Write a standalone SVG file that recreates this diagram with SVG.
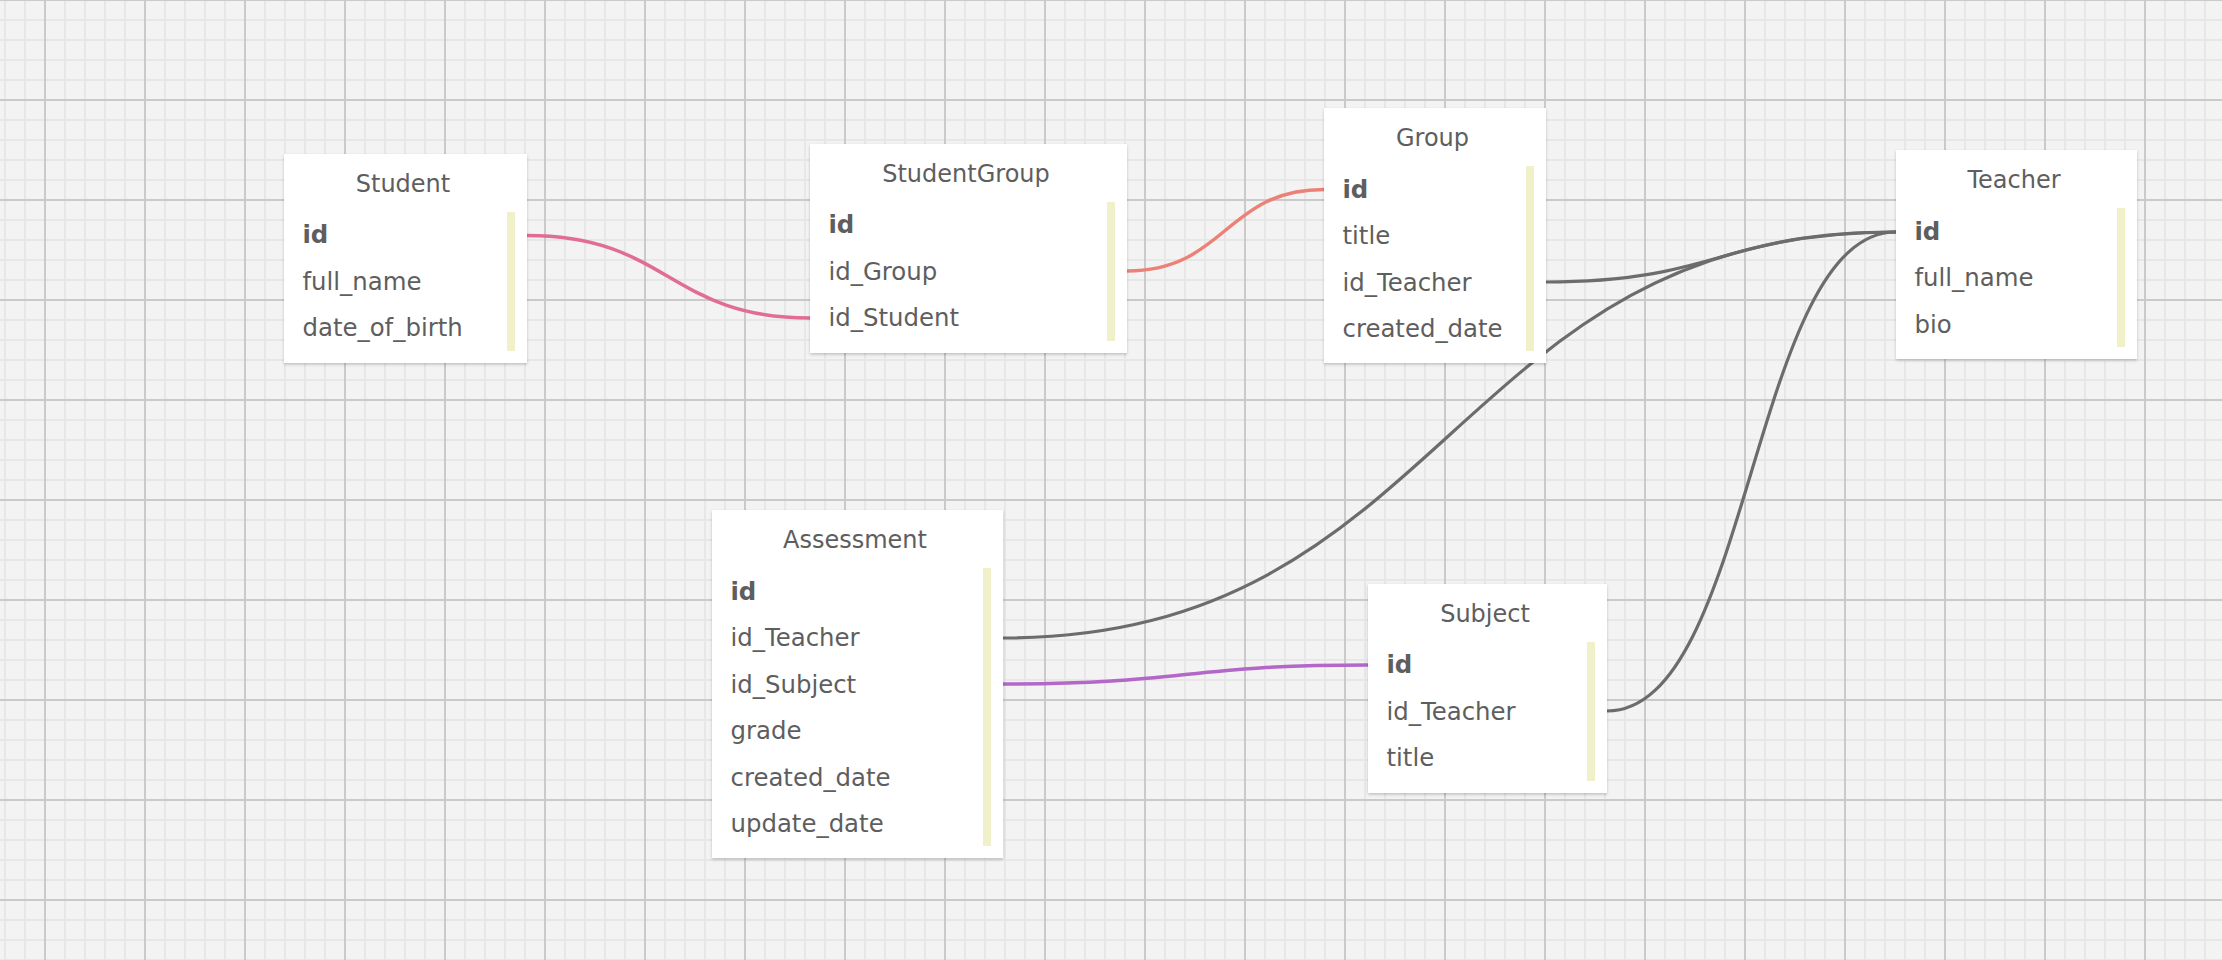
<svg xmlns="http://www.w3.org/2000/svg" width="2222" height="960" viewBox="0 0 2222 960">
  <defs>
    <pattern id="minor" x="-5" y="-10" width="20" height="20" patternUnits="userSpaceOnUse">
      <line x1="10" y1="0" x2="10" y2="20" stroke="#e7e7e7" stroke-width="2"/>
      <line x1="0" y1="10" x2="20" y2="10" stroke="#e7e7e7" stroke-width="2"/>
    </pattern>
    <pattern id="major" x="-5" y="-50" width="100" height="100" patternUnits="userSpaceOnUse">
      <line x1="50" y1="0" x2="50" y2="100" stroke="#cacaca" stroke-width="2"/>
      <line x1="0" y1="50" x2="100" y2="50" stroke="#cacaca" stroke-width="2"/>
    </pattern>
    <filter id="shadow" x="-10%" y="-10%" width="120%" height="120%">
      <feDropShadow dx="0" dy="1.5" stdDeviation="1.5" flood-color="#000" flood-opacity="0.22"/>
    </filter>
  </defs>
  <style>
    .box { fill: #ffffff; filter: url(#shadow); }
    .bar { fill: #f1f1c9; }
    .title { font-family: "DejaVu Sans", Verdana, sans-serif; font-size: 24px; fill: #5e5e5e; text-anchor: middle; }
    .field { font-family: "DejaVu Sans", Verdana, sans-serif; font-size: 24.4px; fill: #5e5e5e; }
    .pk { font-weight: bold; }
    .conn { fill: none; stroke-linecap: butt; }
    .gray { stroke: #6c6c6c; stroke-width: 3.2; }
    .pink { stroke: #e26d93; stroke-width: 3.5; }
    .salmon { stroke: #ec8177; stroke-width: 3.5; }
    .purple { stroke: #b267c9; stroke-width: 3.5; }
  </style>

  <rect x="0" y="0" width="2222" height="960" fill="#f3f3f3"/>
  <rect x="0" y="0" width="2222" height="960" fill="url(#minor)"/>
  <rect x="0" y="0" width="2222" height="960" fill="url(#major)"/>

  <g id="connectors">
    <path class="conn pink" d="M527 235.5 C668.5 235.5 668.5 318 810 318"/>
    <path class="conn salmon" d="M1127 271 C1225.5 271 1225.5 189.5 1324 189.5"/>
    <path class="conn gray" d="M1546 282 C1721 282 1721 232 1896 232"/>
    <path class="conn gray" d="M1003 638 C1449.5 638 1449.5 232 1896 232"/>
    <path class="conn purple" d="M1003 684 C1185.5 684 1185.5 665 1368 665"/>
    <path class="conn gray" d="M1607 711 C1751.5 711 1751.5 232 1896 232"/>
  </g>

  <g id="Student">
    <rect class="box" x="284" y="154" width="243" height="209"/>
    <rect class="bar" x="507" y="212" width="8" height="139"/>
    <text class="title" x="403" y="192">Student</text>
    <text class="field pk" x="302.5" y="243">id</text>
    <text class="field" x="302.5" y="289.7">full_name</text>
    <text class="field" x="302.5" y="336.3">date_of_birth</text>
  </g>

  <g id="StudentGroup">
    <rect class="box" x="810" y="144" width="317" height="209"/>
    <rect class="bar" x="1107" y="202" width="8" height="139"/>
    <text class="title" x="966" y="182">StudentGroup</text>
    <text class="field pk" x="828.5" y="233">id</text>
    <text class="field" x="828.5" y="279.7">id_Group</text>
    <text class="field" x="828.5" y="326.3">id_Student</text>
  </g>

  <g id="Group">
    <rect class="box" x="1324" y="108" width="222" height="255"/>
    <rect class="bar" x="1526" y="166" width="8" height="185"/>
    <text class="title" x="1432.5" y="146">Group</text>
    <text class="field pk" x="1342.5" y="197.5">id</text>
    <text class="field" x="1342.5" y="244">title</text>
    <text class="field" x="1342.5" y="290.5">id_Teacher</text>
    <text class="field" x="1342.5" y="337">created_date</text>
  </g>

  <g id="Teacher">
    <rect class="box" x="1896" y="150" width="241" height="209"/>
    <rect class="bar" x="2117" y="208" width="8" height="139"/>
    <text class="title" x="2014" y="188">Teacher</text>
    <text class="field pk" x="1914.5" y="239.5">id</text>
    <text class="field" x="1914.5" y="286">full_name</text>
    <text class="field" x="1914.5" y="332.5">bio</text>
  </g>

  <g id="Assessment">
    <rect class="box" x="712" y="510" width="291" height="348"/>
    <rect class="bar" x="983" y="568" width="8" height="278"/>
    <text class="title" x="855" y="548">Assessment</text>
    <text class="field pk" x="730.5" y="599.5">id</text>
    <text class="field" x="730.5" y="646">id_Teacher</text>
    <text class="field" x="730.5" y="692.5">id_Subject</text>
    <text class="field" x="730.5" y="739">grade</text>
    <text class="field" x="730.5" y="785.5">created_date</text>
    <text class="field" x="730.5" y="832">update_date</text>
  </g>

  <g id="Subject">
    <rect class="box" x="1368" y="584" width="239" height="209"/>
    <rect class="bar" x="1587" y="642" width="8" height="139"/>
    <text class="title" x="1485" y="622">Subject</text>
    <text class="field pk" x="1386.5" y="673">id</text>
    <text class="field" x="1386.5" y="719.7">id_Teacher</text>
    <text class="field" x="1386.5" y="766.3">title</text>
  </g>
</svg>
